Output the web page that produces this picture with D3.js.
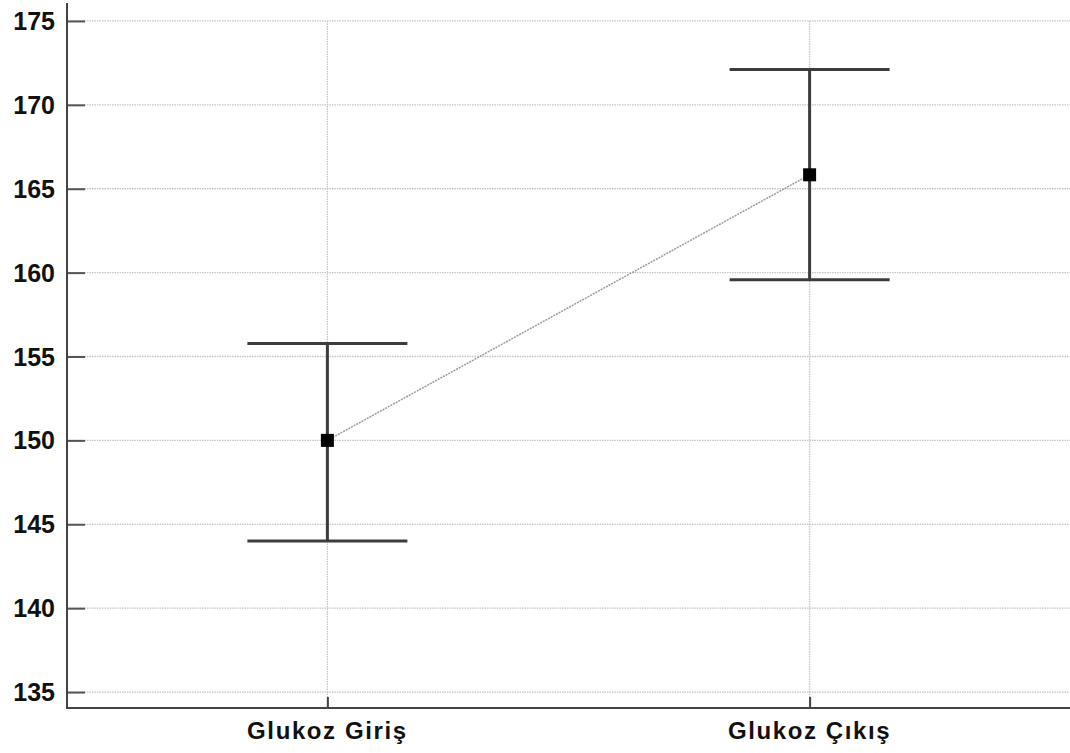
<!DOCTYPE html>
<html>
<head>
<meta charset="utf-8">
<script src="https://cdn.jsdelivr.net/npm/d3@7/dist/d3.min.js"></script>
<style>
  html, body { margin: 0; padding: 0; background: #fff; }
  svg { display: block; }
  text { font-family: "Liberation Sans", Arial, sans-serif; font-weight: bold; fill: #111; }
</style>
</head>
<body>
<svg id="chart" width="1070" height="753"></svg>
<script>
// Mean glucose with error bars (entry vs exit)
const categories = ["Glukoz Giriş", "Glukoz Çıkış"];
const means = [150.0, 165.83];
const upper = [155.77, 172.1];
const lower = [144.0, 159.58];
const yTicks = [135, 140, 145, 150, 155, 160, 165, 170, 175];

const svg = d3.select("#chart");
const plotLeft = 67, plotRight = 1070, plotTop = 3, plotBottom = 708;

const x = d3.scalePoint().domain(categories).range([plotLeft, plotRight]).padding(0.54);
const y = d3.scaleLinear().domain([134.05, 176.07]).range([plotBottom, plotTop]);

// horizontal grid lines
svg.append("g").selectAll("line").data(yTicks).join("line")
  .attr("x1", plotLeft).attr("x2", plotRight)
  .attr("y1", d => y(d)).attr("y2", d => y(d))
  .attr("stroke", "#c4c4c4").attr("stroke-width", 1.3)
  .attr("stroke-dasharray", "1.5,1");

// vertical grid lines at categories
svg.append("g").selectAll("line").data(categories).join("line")
  .attr("x1", d => x(d)).attr("x2", d => x(d))
  .attr("y1", y(175)).attr("y2", plotBottom)
  .attr("stroke", "#c4c4c4").attr("stroke-width", 1.3)
  .attr("stroke-dasharray", "1.5,1");

// y axis with inward ticks
const yAxis = svg.append("g").attr("transform", `translate(${plotLeft},0)`)
  .call(d3.axisRight(y).tickValues(yTicks).tickSize(18).tickFormat(""));
yAxis.select(".domain").remove();
yAxis.selectAll(".tick line").attr("stroke", "#555").attr("stroke-width", 2);
svg.append("line").attr("x1", plotLeft).attr("x2", plotLeft).attr("y1", plotTop).attr("y2", plotBottom + 1)
  .attr("stroke", "#444").attr("stroke-width", 2);

svg.append("g").selectAll("text").data(yTicks).join("text")
  .attr("x", plotLeft - 12).attr("y", d => y(d))
  .attr("dy", "0.36em").attr("text-anchor", "end")
  .style("font-size", "25px")
  .text(d => d);

// x axis with upward ticks
const xAxis = svg.append("g").attr("transform", `translate(0,${plotBottom})`)
  .call(d3.axisTop(x).tickSize(11).tickFormat(""));
xAxis.select(".domain").remove();
xAxis.selectAll(".tick line").attr("stroke", "#444").attr("stroke-width", 2);
svg.append("line").attr("x1", plotLeft - 1).attr("x2", plotRight).attr("y1", plotBottom).attr("y2", plotBottom)
  .attr("stroke", "#444").attr("stroke-width", 2.2);

svg.append("g").selectAll("text").data(categories).join("text")
  .attr("x", d => x(d)).attr("y", 739)
  .attr("text-anchor", "middle")
  .style("font-size", "24px").style("letter-spacing", "1.6px")
  .text(d => d);

// connecting line between means
const pts = categories.map((c, i) => [x(c), y(means[i])]);
svg.append("path").attr("d", d3.line()(pts))
  .attr("fill", "none").attr("stroke", "#9a9a9a").attr("stroke-width", 1.5)
  .attr("stroke-dasharray", "2,1");

// error bars
const capHalf = 80;
const eb = svg.append("g").attr("stroke", "#3c3c3c").attr("stroke-width", 3);
categories.forEach((c, i) => {
  const cx = x(c);
  eb.append("line").attr("x1", cx).attr("x2", cx).attr("y1", y(upper[i])).attr("y2", y(lower[i]));
  eb.append("line").attr("x1", cx - capHalf).attr("x2", cx + capHalf).attr("y1", y(upper[i])).attr("y2", y(upper[i]));
  eb.append("line").attr("x1", cx - capHalf).attr("x2", cx + capHalf).attr("y1", y(lower[i])).attr("y2", y(lower[i]));
});

// mean markers
svg.append("g").selectAll("rect").data(categories).join("rect")
  .attr("x", d => x(d) - 6.5).attr("y", (d, i) => y(means[i]) - 6.5)
  .attr("width", 13).attr("height", 13).attr("fill", "#000");
</script>
</body>
</html>
